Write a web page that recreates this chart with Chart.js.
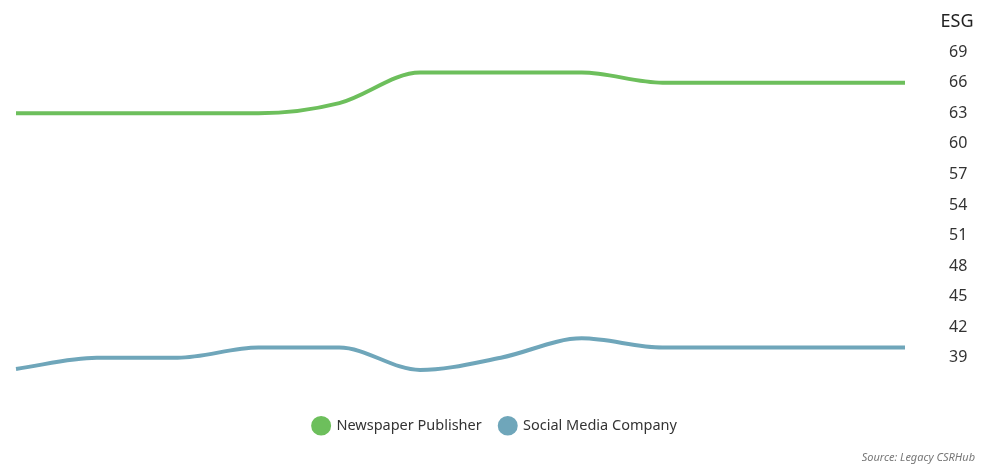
<!DOCTYPE html>
<html>
<head>
<meta charset="utf-8">
<script src="https://cdn.jsdelivr.net/npm/chart.js@4/dist/chart.umd.min.js"></script>
<style>
  html,body{margin:0;padding:0;background:#fff;}
  #wrap{width:1000px;height:473px;position:relative;}
</style>
</head>
<body>
<div id="wrap"><canvas id="esgChart"></canvas></div>
<script>
// ================== DATA ==================
const periods = ["P1","P2","P3","P4","P5","P6","P7","P8","P9","P10","P11","P12"];
const newspaperScores = [63, 63, 63, 63, 64, 67, 67, 67, 66, 66, 66, 66];
const socialScores = [37.9, 39, 39, 40, 40, 37.8, 39, 40.9, 40, 40, 40, 40];
const yTicks = [39, 42, 45, 48, 51, 54, 57, 60, 63, 66, 69];

const green = "#6dbf5c";
const blue = "#6fa6ba";
const font = "'Noto Sans', 'Open Sans', sans-serif";

// ================== EXTRA TEXT ==================
// axis caption above the tick labels + source note bottom right
const extraText = {
  id: "extraText",
  afterDraw(chart){
    const ctx = chart.ctx;
    const y = chart.scales.y;
    ctx.save();
    ctx.fillStyle = "#222";
    ctx.font = "18px " + font;
    ctx.textAlign = "center";
    ctx.textBaseline = "middle";
    ctx.fillText("ESG", y.left + 44 + 8, 22);

    ctx.fillStyle = "#777";
    ctx.font = "italic 11px " + font;
    ctx.textAlign = "right";
    ctx.fillText("Source: Legacy CSRHub", 975, 458);
    ctx.restore();
  }
};

// ================== CHART ==================
new Chart(document.getElementById("esgChart"), {
  type: "line",
  data: {
    labels: periods,
    datasets: [
      {
        label: "Newspaper Publisher",
        data: newspaperScores,
        borderColor: green,
        backgroundColor: green,
        pointBackgroundColor: green,
        pointBorderColor: green,
        borderWidth: 4,
        pointRadius: 0,
        cubicInterpolationMode: "monotone"
      },
      {
        label: "Social Media Company",
        data: socialScores,
        borderColor: blue,
        backgroundColor: blue,
        pointBackgroundColor: blue,
        pointBorderColor: blue,
        borderWidth: 4,
        pointRadius: 0,
        cubicInterpolationMode: "monotone"
      }
    ]
  },
  options: {
    responsive: true,
    maintainAspectRatio: false,
    animation: false,
    layout: { padding: { top: 42, bottom: 30, left: 16, right: 26 } },
    scales: {
      x: { display: false, offset: false },
      y: {
        position: "right",
        min: 34.8,
        max: 70,
        border: { display: false },
        grid: { display: false, drawTicks: false },
        afterBuildTicks(scale){ scale.ticks = yTicks.map(v => ({ value: v })); },
        afterFit(scale){
          // fixed width, and don't let the big tick padding push the plot down
          scale.width = 69;
          scale.paddingTop = 0;
          scale.paddingBottom = 0;
        },
        ticks: {
          padding: 44,
          color: "#333",
          font: { family: font, size: 16 }
        }
      }
    },
    plugins: {
      tooltip: { enabled: false },
      legend: {
        position: "bottom",
        labels: {
          usePointStyle: true,
          pointStyle: "circle",
          pointStyleWidth: 16,
          boxHeight: 11,
          padding: 18,
          color: "#333",
          font: { family: font, size: 14.5 }
        }
      }
    }
  },
  plugins: [extraText]
});
</script>
</body>
</html>
